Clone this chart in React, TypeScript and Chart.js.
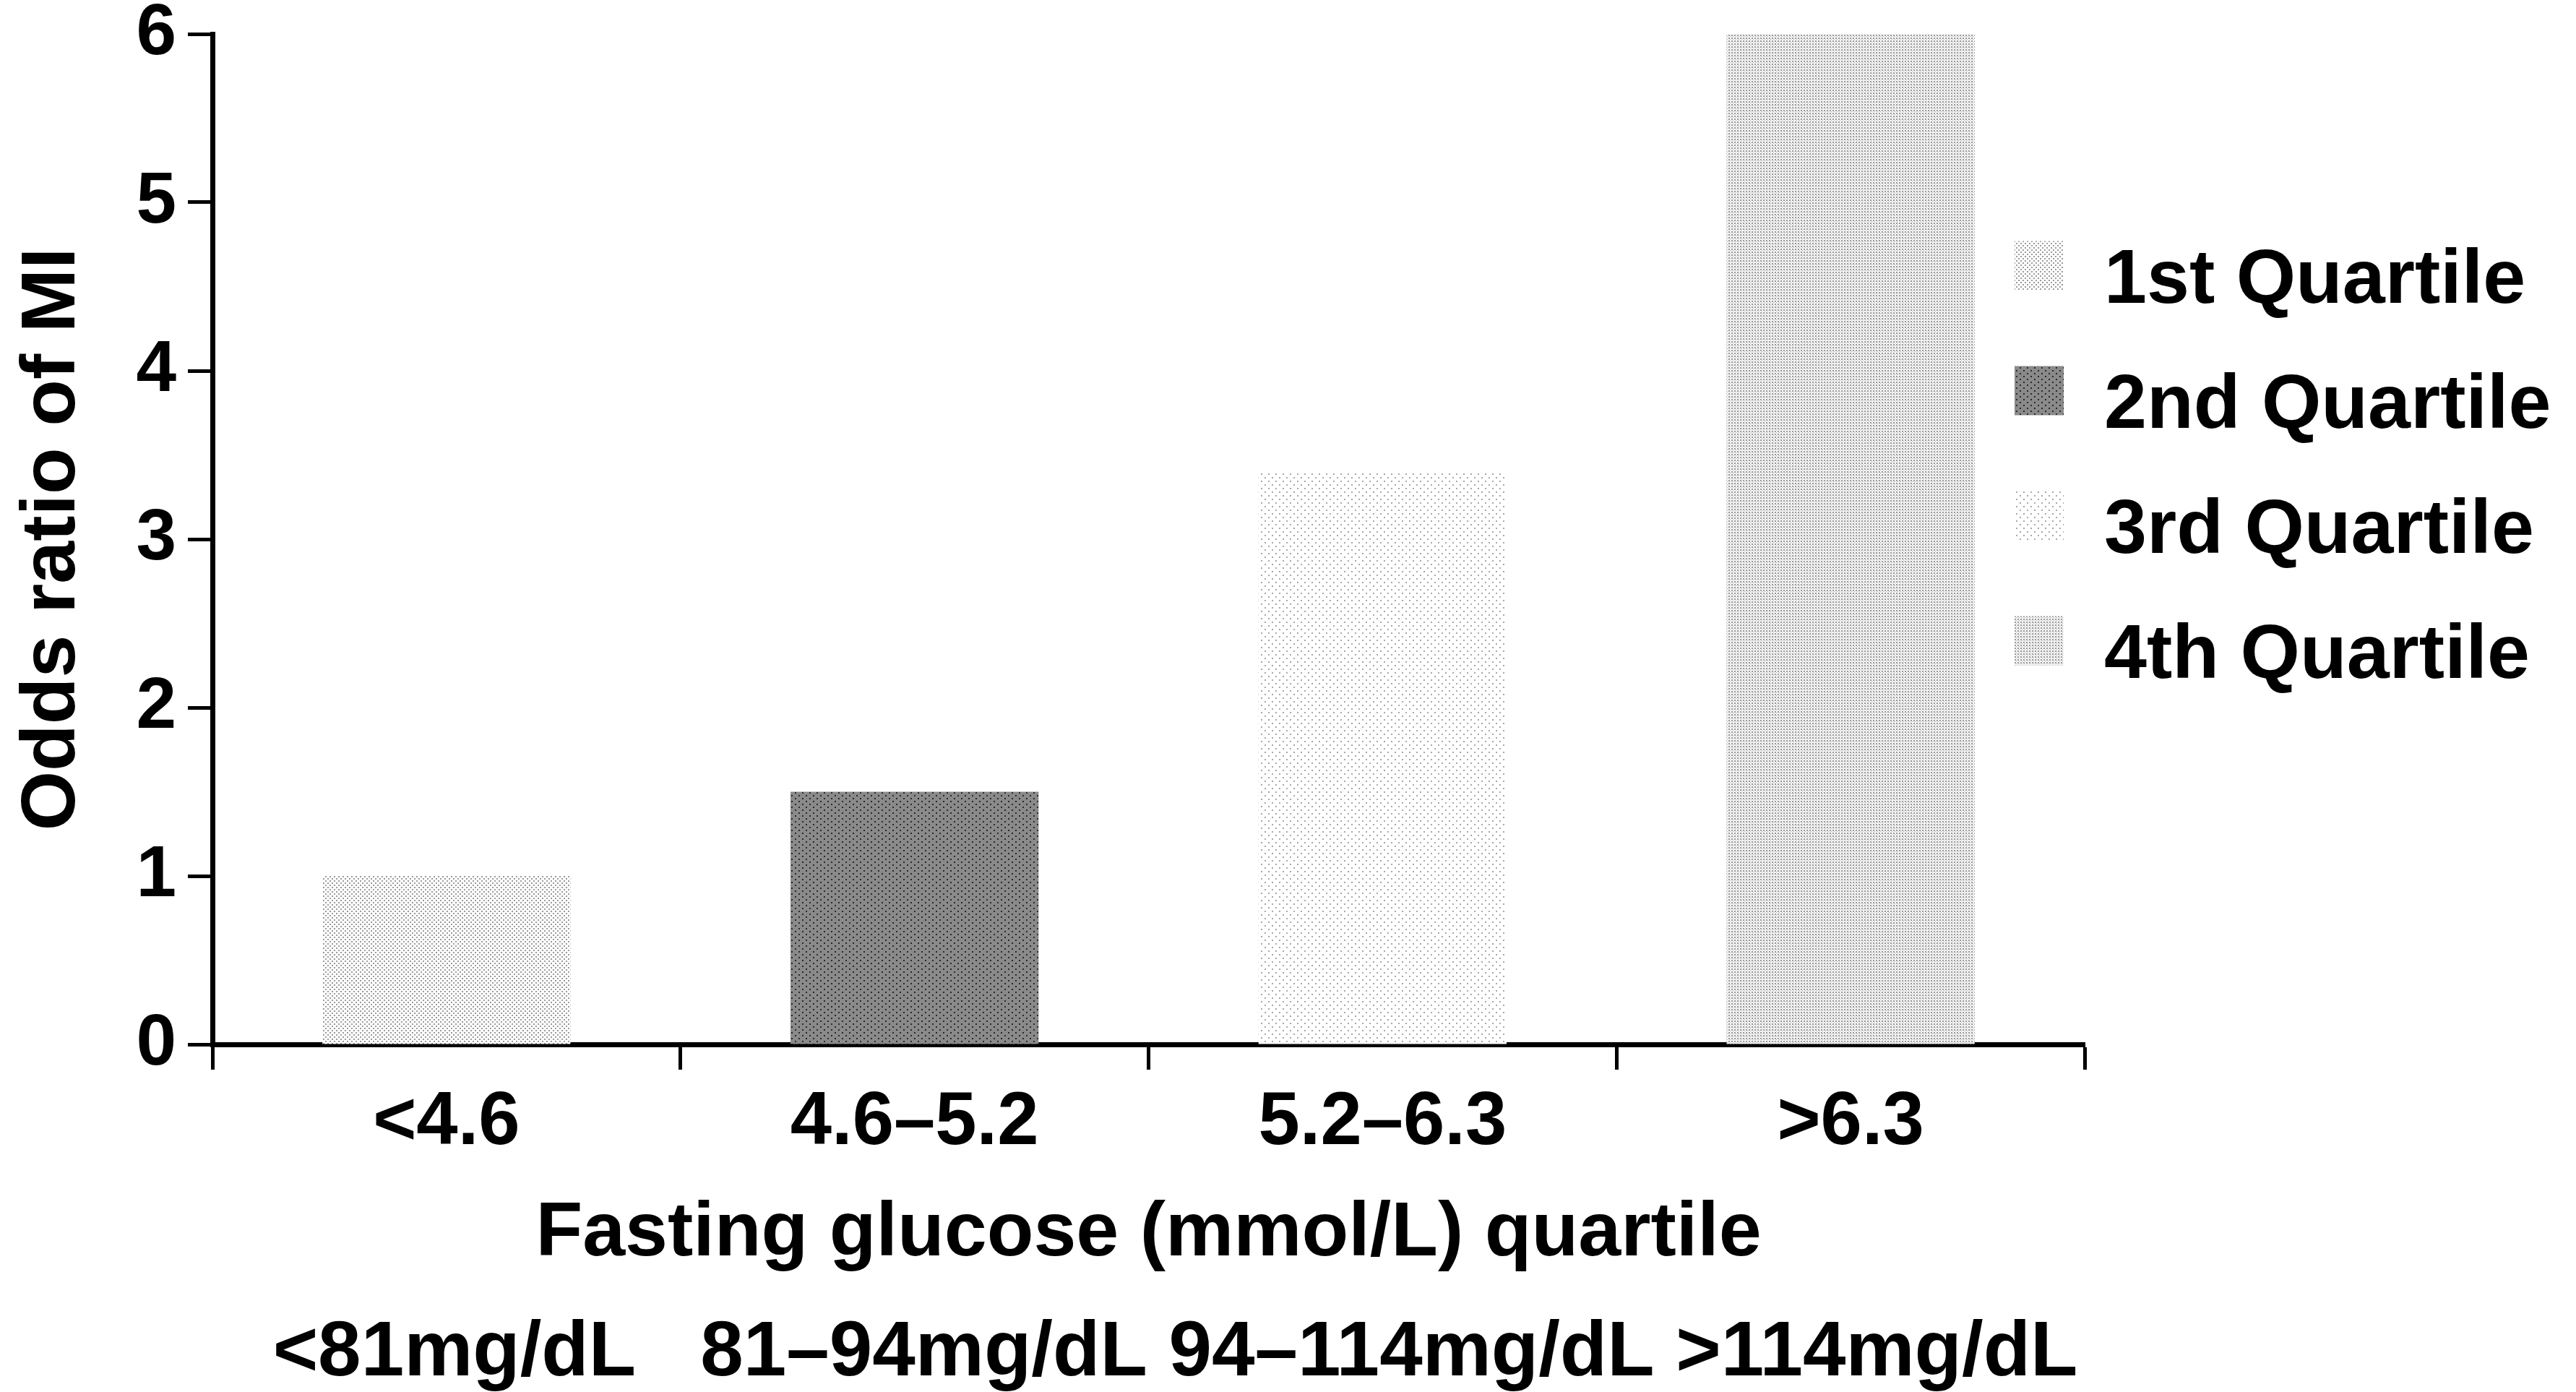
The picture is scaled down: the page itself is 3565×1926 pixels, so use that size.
import React, { useEffect, useRef } from 'react';
import { Chart, registerables } from 'chart.js';

Chart.register(...registerables);

const categories = ['<4.6', '4.6–5.2', '5.2–6.3', '>6.3'];
const quartileLabels = ['1st Quartile', '2nd Quartile', '3rd Quartile', '4th Quartile'];
const oddsRatios = [1.0, 1.5, 3.4, 6.0];
const yMin = 0;
const yMax = 6;
const yStep = 1;
const xTitle = 'Fasting glucose (mmol/L) quartile';
const mgdlLine = '<81mg/dL   81–94mg/dL 94–114mg/dL >114mg/dL';
const yTitle = 'Odds ratio of MI';

const FONT = '"Liberation Sans", Arial, Helvetica, sans-serif';

type Dot = [number, number, number, string];

function makePattern(w: number, h: number, bg: string, dots: Dot[]): CanvasPattern | string {
  const c = document.createElement('canvas');
  c.width = w;
  c.height = h;
  const g = c.getContext('2d');
  if (!g) return bg;
  g.fillStyle = bg;
  g.fillRect(0, 0, w, h);
  dots.forEach(([x, y, s, col]) => {
    g.fillStyle = col;
    g.fillRect(x, y, s, s);
  });
  const p = g.createPattern(c, 'repeat');
  return p || bg;
}

const overlayPlugin = {
  id: 'overlayLegend',
  afterDraw(chart: any) {
    const { ctx, chartArea } = chart;
    ctx.save();
    ctx.font = `bold 106px ${FONT}`;
    ctx.textBaseline = 'alphabetic';
    chart.data.datasets.forEach((ds: any, i: number) => {
      const rowMid = chartArea.top + 334.5 + i * 173;
      ctx.fillStyle = ds.backgroundColor;
      ctx.fillRect(chartArea.right - 97, rowMid - 48, 68, 68);
      ctx.fillStyle = '#000';
      ctx.textAlign = 'left';
      ctx.fillText(ds.label, chartArea.right + 27, rowMid + 37);
    });
    ctx.font = `bold 107px ${FONT}`;
    ctx.fillStyle = '#000';
    ctx.textAlign = 'center';
    ctx.fillText(mgdlLine, (chartArea.left + chartArea.right) / 2 + 37, chartArea.bottom + 458);
    ctx.restore();
  },
};

export default function App() {
  const ref = useRef<HTMLCanvasElement>(null);

  useEffect(() => {
    document.body.style.margin = '0';
    document.body.style.overflow = 'hidden';
    const canvas = ref.current;
    if (!canvas) return;

    const patterns = [
      makePattern(6, 6, '#ffffff', [[0, 0, 2, '#9a9a9a'], [3, 3, 2, '#9a9a9a']]),
      makePattern(10, 8, '#8a8a8a', [[0, 0, 2, '#2a2a2a'], [5, 4, 2, '#2a2a2a']]),
      makePattern(10, 10, '#ffffff', [[0, 0, 2, '#a8a8a8'], [5, 5, 2, '#a8a8a8']]),
      makePattern(4, 4, '#f4f4f4', [[0, 0, 2, '#9a9a9a'], [2, 2, 1, '#b4b4b4']]),
    ];

    const datasets = quartileLabels.map((label, i) => ({
      label,
      data: categories.map((_, j) => (j === i ? oddsRatios[i] : null)),
      backgroundColor: patterns[i] as any,
      borderWidth: 0,
      grouped: false,
      categoryPercentage: 1,
      barPercentage: 0.53,
    }));

    const chart = new Chart(canvas, {
      type: 'bar',
      data: { labels: categories, datasets },
      options: {
        animation: false,
        responsive: false,
        devicePixelRatio: 1,
        layout: { padding: { left: 0, top: 47, right: 680, bottom: 0 } },
        plugins: {
          legend: { display: false },
          tooltip: { enabled: false },
        },
        scales: {
          x: {
            z: 1,
            offset: true,
            afterFit: (scale: any) => {
              scale.height = 481;
              scale.paddingLeft = 0;
              scale.paddingRight = 0;
            },
            border: { display: true, width: 7, color: '#000' },
            grid: {
              display: true,
              offset: true,
              drawOnChartArea: false,
              drawTicks: true,
              tickLength: 35,
              tickWidth: 5,
              tickColor: '#000',
            },
            ticks: {
              color: '#000',
              padding: 13,
              maxRotation: 0,
              autoSkip: false,
              font: { family: FONT, size: 103, weight: 'bold', lineHeight: 1.2 },
            },
            title: {
              display: true,
              text: xTitle,
              color: '#000',
              font: { family: FONT, size: 106, weight: 'bold', lineHeight: 1.2 },
              padding: { top: 0, bottom: 155 },
            },
          },
          y: {
            z: 1,
            min: yMin,
            max: yMax,
            afterFit: (scale: any) => {
              scale.width = 294;
              scale.paddingTop = 0;
              scale.paddingBottom = 0;
            },
            border: { display: true, width: 7, color: '#000' },
            grid: {
              display: true,
              drawOnChartArea: false,
              drawTicks: true,
              tickLength: 34,
              tickWidth: 5,
              tickColor: '#000',
            },
            ticks: {
              stepSize: yStep,
              color: '#000',
              padding: 16,
              font: { family: FONT, size: 100, weight: 'bold', lineHeight: 0.8 },
            },
            title: {
              display: true,
              text: yTitle,
              color: '#000',
              font: { family: FONT, size: 106, weight: 'bold', lineHeight: 1.2 },
              padding: { top: 10, bottom: 0 },
            },
          },
        },
      } as any,
      plugins: [overlayPlugin],
    });

    return () => chart.destroy();
  }, []);

  return (
    <div style={{ width: 3565, height: 1926 }}>
      <canvas ref={ref} width={3565} height={1926} style={{ display: 'block', width: 3565, height: 1926 }} />
    </div>
  );
}
